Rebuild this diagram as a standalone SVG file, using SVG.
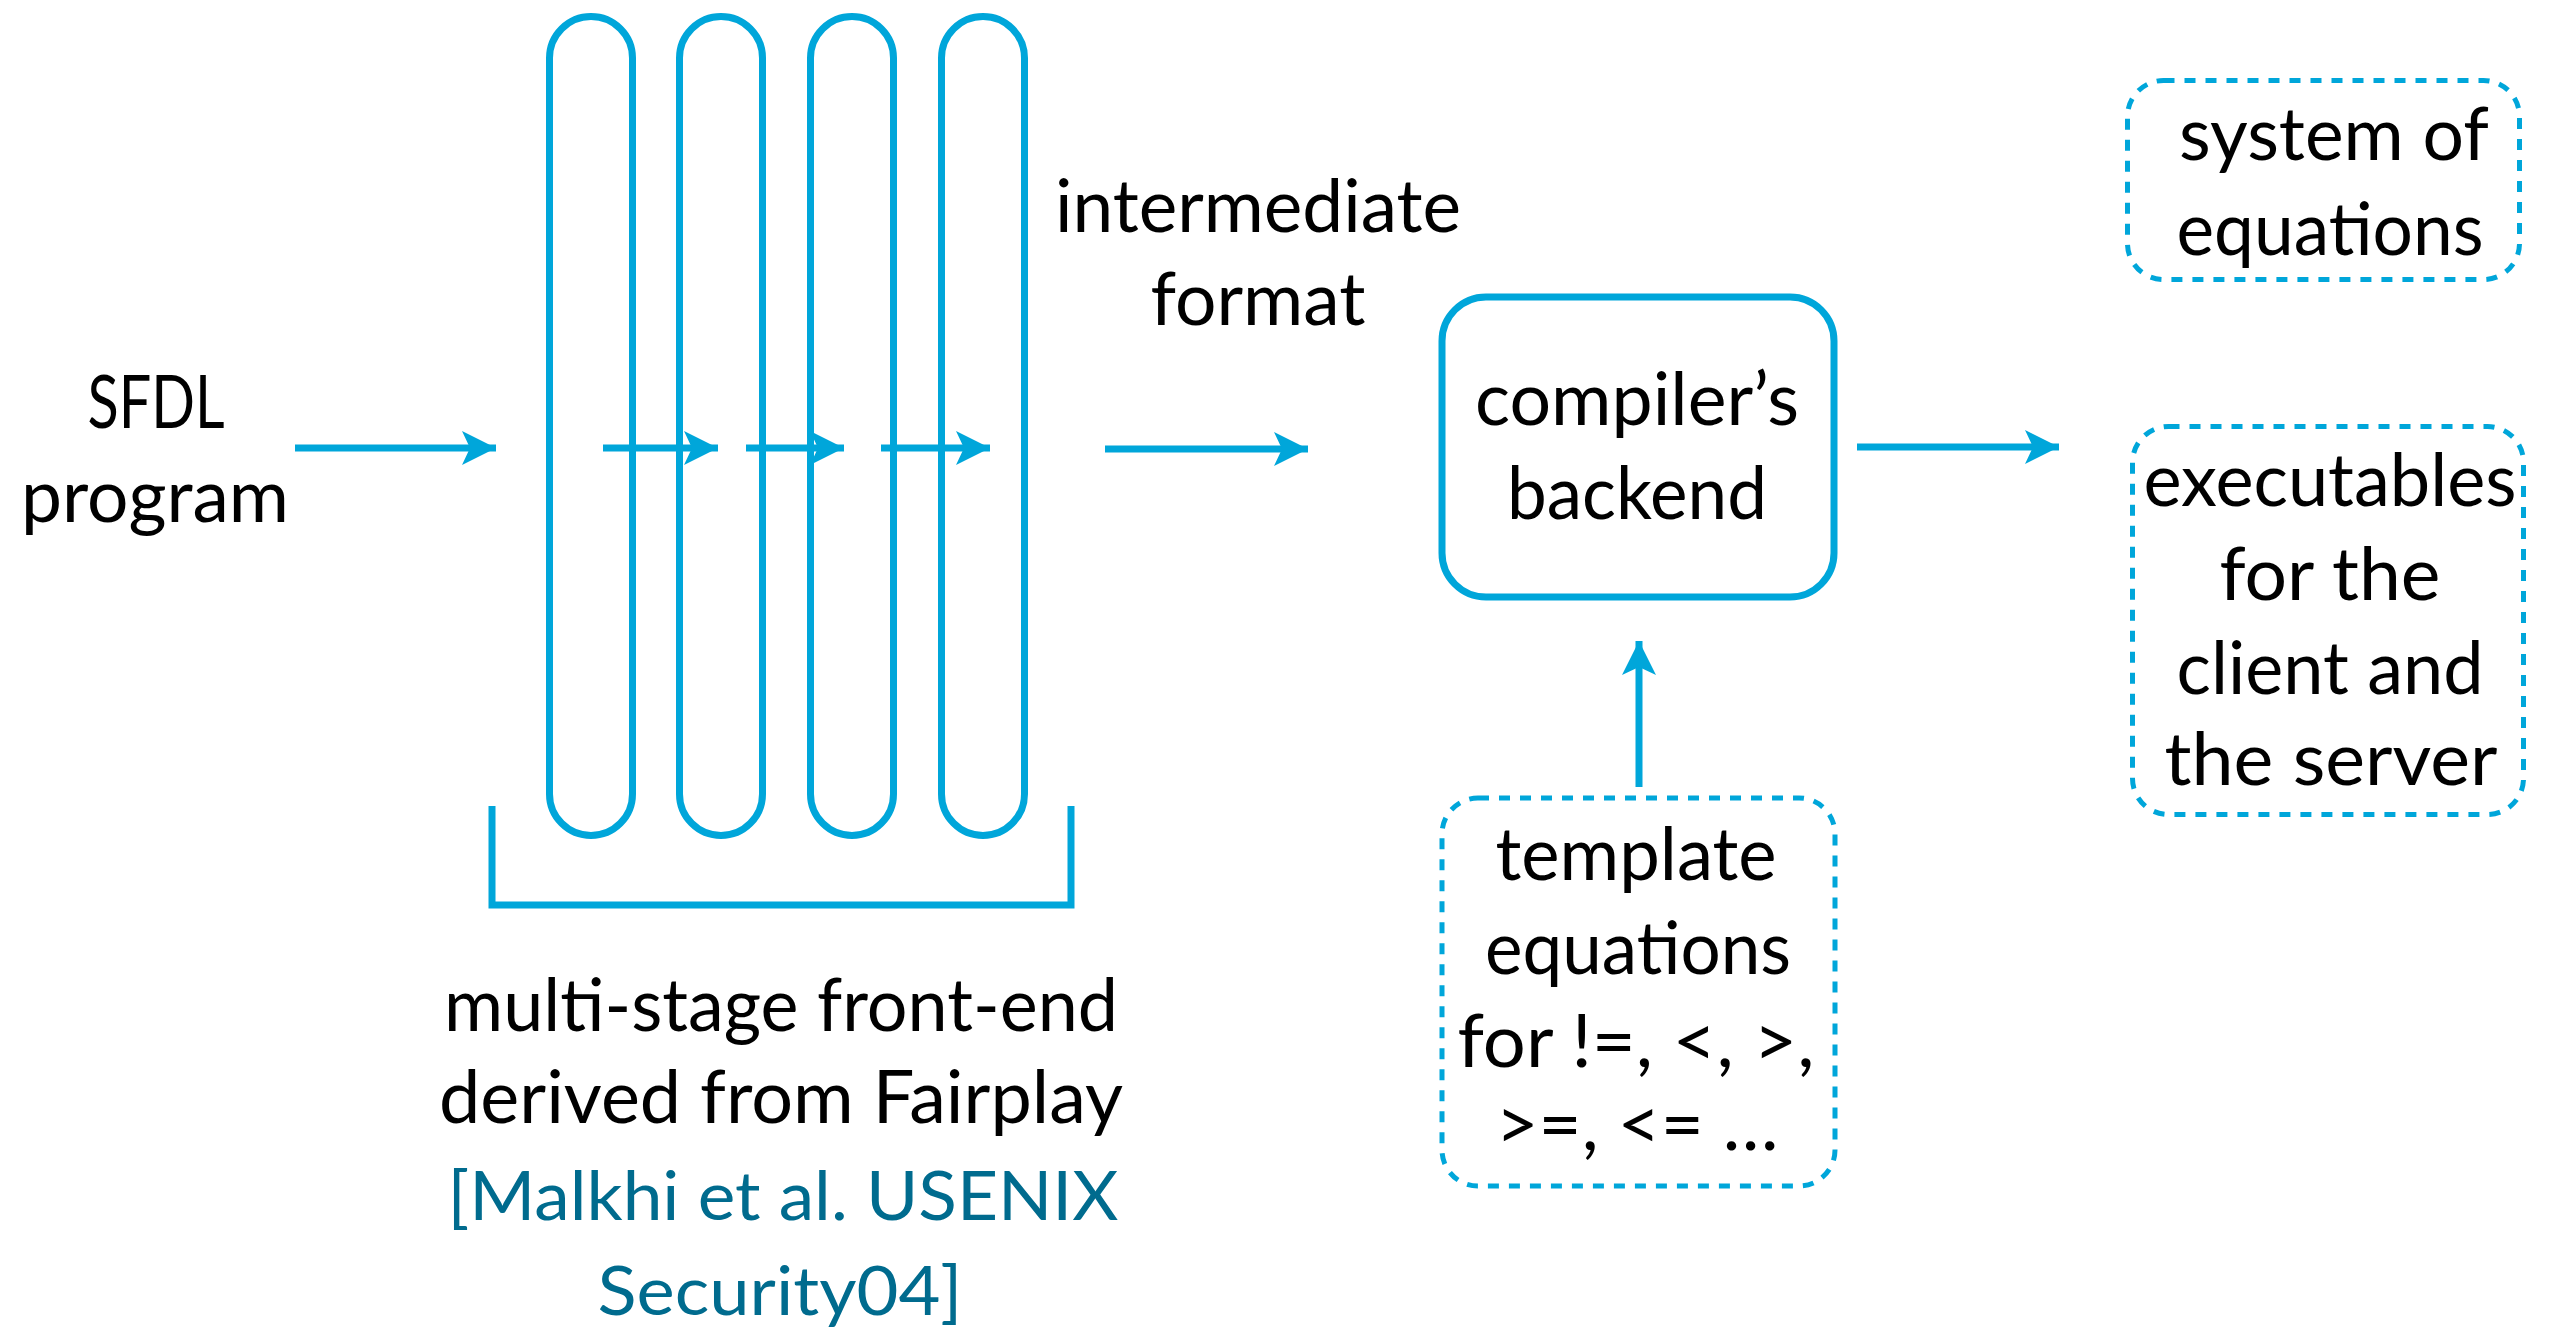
<svg xmlns="http://www.w3.org/2000/svg" width="2552" height="1333" viewBox="0 0 2552 1333">
  <style>
    .lbl { font-family: Lato, "Open Sans", "Liberation Sans", sans-serif; font-size: 73px; fill: #000; text-anchor: middle; }
    .cite { font-family: Lato, "Open Sans", "Liberation Sans", sans-serif; font-size: 67px; fill: #006B8E; text-anchor: middle; }
    .stage { fill: none; stroke: #00A6DA; stroke-width: 7; }
    .solid { fill: #fff; stroke: #00A6DA; stroke-width: 7; }
    .dashed { fill: none; stroke: #00A6DA; stroke-width: 5; stroke-dasharray: 11 10; }
    .wire { fill: none; stroke: #00A6DA; stroke-width: 7; }
  </style>
  <defs>
    <marker id="arrow" viewBox="-36 -20 38 40" refX="0" refY="0" markerWidth="38" markerHeight="40" markerUnits="userSpaceOnUse" orient="auto">
      <path d="M0,0 L-34,-17 L-26,0 L-34,17 Z" fill="#00A6DA"/>
    </marker>
  </defs>
  <rect width="2552" height="1333" fill="#fff"/>

  <!-- front-end stages -->
  <g id="frontend">
    <rect class="stage" x="549.5" y="16.5" width="83" height="819" rx="41.5" ry="41.5"/>
    <rect class="stage" x="679.5" y="16.5" width="83" height="819" rx="41.5" ry="41.5"/>
    <rect class="stage" x="810.5" y="16.5" width="83" height="819" rx="41.5" ry="41.5"/>
    <rect class="stage" x="941.5" y="16.5" width="83" height="819" rx="41.5" ry="41.5"/>
    <path class="wire" d="M492,806 V905 H1071 V806"/>
  </g>

  <g id="sfdl">
    <text class="lbl" x="156" y="428" font-size="57" textLength="137" lengthAdjust="spacingAndGlyphs">SFDL</text>
    <text class="lbl" x="155" y="522" textLength="268" lengthAdjust="spacingAndGlyphs">program</text>
  </g>

  <g id="intermediate">
    <text class="lbl" x="1258" y="232" textLength="406" lengthAdjust="spacingAndGlyphs">intermediate</text>
    <text class="lbl" x="1258" y="325" textLength="215" lengthAdjust="spacingAndGlyphs">format</text>
  </g>

  <g id="frontend-label">
    <text class="lbl" x="781" y="1031" textLength="674" lengthAdjust="spacingAndGlyphs">multi-stage front-end</text>
    <text class="lbl" x="781" y="1123" textLength="684" lengthAdjust="spacingAndGlyphs">derived from Fairplay</text>
    <text class="cite" x="783" y="1220" textLength="671" lengthAdjust="spacingAndGlyphs">[Malkhi et al. USENIX</text>
    <text class="cite" x="780" y="1315" textLength="365" lengthAdjust="spacingAndGlyphs">Security04]</text>
  </g>

  <g id="backend">
    <rect class="solid" x="1442" y="297" width="392" height="300" rx="44" ry="44"/>
    <text class="lbl" x="1637" y="425" textLength="324" lengthAdjust="spacingAndGlyphs">compiler’s</text>
    <text class="lbl" x="1637" y="519" textLength="260" lengthAdjust="spacingAndGlyphs">backend</text>
  </g>

  <g id="templates">
    <rect class="dashed" x="1442" y="798" width="393" height="388" rx="36" ry="36"/>
    <text class="lbl" x="1636" y="880" textLength="281" lengthAdjust="spacingAndGlyphs">template</text>
    <text class="lbl" x="1638" y="974" textLength="306" lengthAdjust="spacingAndGlyphs">equations</text>
    <text class="lbl" x="1636" y="1067" textLength="357" lengthAdjust="spacingAndGlyphs">for !=, &lt;, &gt;,</text>
    <text class="lbl" x="1637" y="1150" textLength="283" lengthAdjust="spacingAndGlyphs">&gt;=, &lt;= …</text>
  </g>

  <g id="equations">
    <rect class="dashed" x="2127.5" y="80.5" width="392" height="199" rx="36" ry="36"/>
    <text class="lbl" x="2334" y="160" textLength="310" lengthAdjust="spacingAndGlyphs">system of</text>
    <text class="lbl" x="2330" y="255" textLength="307" lengthAdjust="spacingAndGlyphs">equations</text>
  </g>

  <g id="executables">
    <rect class="dashed" x="2132.5" y="426.5" width="391" height="388" rx="36" ry="36"/>
    <text class="lbl" x="2330" y="506" textLength="373" lengthAdjust="spacingAndGlyphs">executables</text>
    <text class="lbl" x="2330" y="600" textLength="221" lengthAdjust="spacingAndGlyphs">for the</text>
    <text class="lbl" x="2330" y="694" textLength="307" lengthAdjust="spacingAndGlyphs">client and</text>
    <text class="lbl" x="2331" y="785" textLength="333" lengthAdjust="spacingAndGlyphs">the server</text>
  </g>

  <!-- connectors -->
  <g id="connectors">
    <path class="wire" d="M295,448 H496" marker-end="url(#arrow)"/>
    <path class="wire" d="M603,448 H718" marker-end="url(#arrow)"/>
    <path class="wire" d="M746,448 H844" marker-end="url(#arrow)"/>
    <path class="wire" d="M881,448 H990" marker-end="url(#arrow)"/>
    <path class="wire" d="M1105,449 H1308" marker-end="url(#arrow)"/>
    <path class="wire" d="M1857,447 H2059" marker-end="url(#arrow)"/>
    <path class="wire" d="M1639,787 V641" marker-end="url(#arrow)"/>
  </g>
</svg>
